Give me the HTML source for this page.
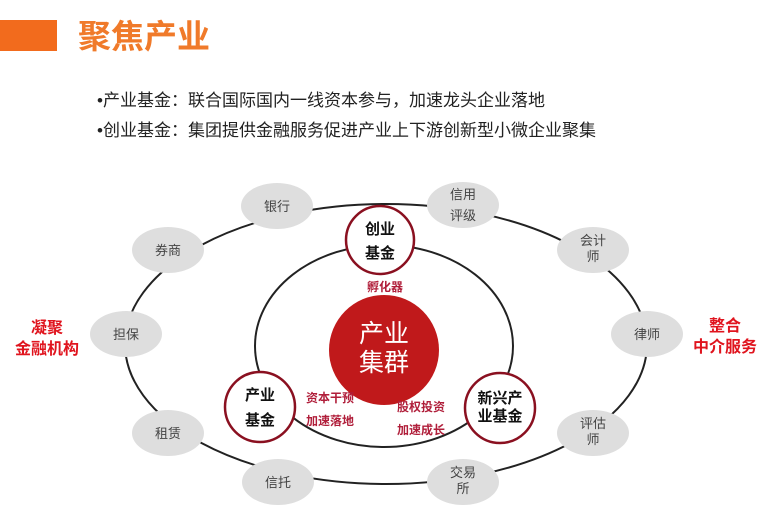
<!DOCTYPE html>
<html><head><meta charset="utf-8"><style>
body{margin:0;width:767px;height:519px;background:#fff;overflow:hidden;font-family:"Liberation Sans","Noto Sans CJK SC",sans-serif;}
</style></head><body>
<svg width="767" height="519" xmlns="http://www.w3.org/2000/svg" style="position:absolute;left:0;top:0" font-family="Liberation Sans, Noto Sans CJK SC, sans-serif">
<rect x="0" y="20" width="57" height="31" fill="#f26b1d"/>
<text x="78" y="48" font-size="33" font-weight="bold" fill="#f07a2a">聚焦产业</text>
<text x="97" y="106" font-size="17" fill="#222">•产业基金：联合国际国内一线资本参与，加速龙头企业落地</text>
<text x="97" y="136" font-size="17" fill="#222">•创业基金：集团提供金融服务促进产业上下游创新型小微企业聚集</text>
<ellipse cx="386" cy="344" rx="261" ry="140" fill="none" stroke="#222" stroke-width="2"/>
<ellipse cx="384" cy="346" rx="129" ry="101" fill="none" stroke="#222" stroke-width="2"/>
<g fill="#dedede">
<ellipse cx="277" cy="206" rx="36" ry="23"/>
<ellipse cx="463" cy="205" rx="36" ry="23"/>
<ellipse cx="168" cy="250" rx="36" ry="23"/>
<ellipse cx="593" cy="250" rx="36" ry="23"/>
<ellipse cx="126" cy="334" rx="36" ry="23"/>
<ellipse cx="647" cy="334" rx="36" ry="23"/>
<ellipse cx="168" cy="433" rx="36" ry="23"/>
<ellipse cx="593" cy="433" rx="36" ry="23"/>
<ellipse cx="278" cy="482" rx="36" ry="23"/>
<ellipse cx="463" cy="482" rx="36" ry="23"/>
</g>
<g font-size="13" fill="#444" text-anchor="middle">
<text x="277" y="211">银行</text>
<text x="463" y="199">信用</text><text x="463" y="220">评级</text>
<text x="168" y="255">券商</text>
<text x="593" y="245">会计</text><text x="593" y="261">师</text>
<text x="126" y="339">担保</text>
<text x="647" y="339">律师</text>
<text x="168" y="438">租赁</text>
<text x="593" y="428">评估</text><text x="593" y="444">师</text>
<text x="278" y="487">信托</text>
<text x="463" y="477">交易</text><text x="463" y="493">所</text>
</g>
<circle cx="384" cy="350" r="55" fill="#c0191b"/>
<text x="384" y="342" font-size="25" fill="#fff" text-anchor="middle">产业</text>
<text x="384" y="371" font-size="25" fill="#fff" text-anchor="middle">集群</text>
<g fill="#fff" stroke="#8a1020" stroke-width="2.5">
<circle cx="380" cy="240" r="34"/>
<circle cx="260" cy="407" r="35"/>
<circle cx="500" cy="408" r="35"/>
</g>
<g font-size="15" font-weight="bold" fill="#111" text-anchor="middle">
<text x="380" y="234">创业</text><text x="380" y="258">基金</text>
<text x="260" y="400">产业</text><text x="260" y="425">基金</text>
<text x="500" y="403">新兴产</text><text x="500" y="421">业基金</text>
</g>
<g font-size="12" font-weight="bold" fill="#b01e3a" text-anchor="middle">
<text x="385" y="291">孵化器</text>
<text x="330" y="402">资本干预</text><text x="330" y="425">加速落地</text>
<text x="421" y="411">股权投资</text><text x="421" y="434">加速成长</text>
</g>
<g font-size="16" font-weight="bold" fill="#e0141e" text-anchor="middle">
<text x="47" y="333">凝聚</text><text x="47" y="354">金融机构</text>
<text x="725" y="331">整合</text><text x="725" y="352">中介服务</text>
</g>
</svg>
</body></html>
